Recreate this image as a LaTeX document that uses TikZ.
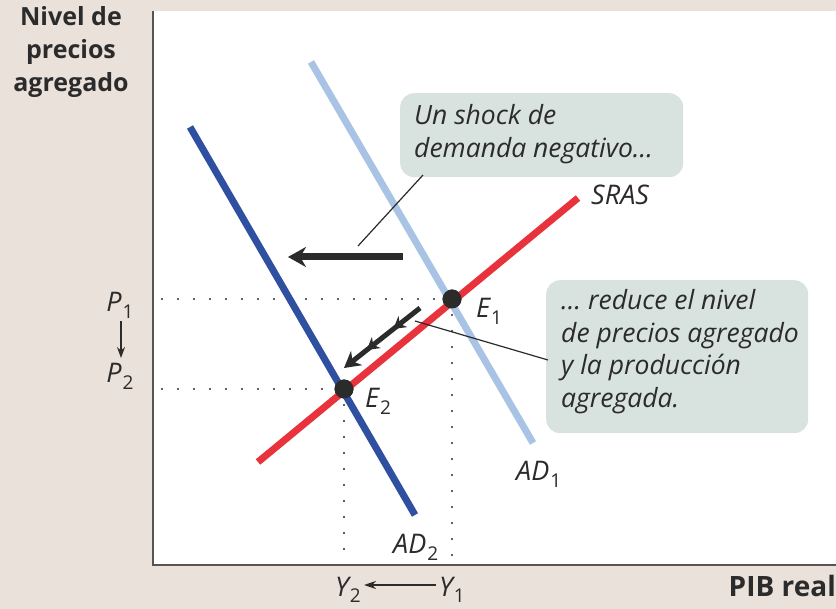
\documentclass[tikz,border=0pt]{standalone}
\usepackage{fontspec}
\setmainfont{Open Sans}
\usetikzlibrary{arrows.meta,decorations.markings,calc}
\definecolor{bgbeige}{HTML}{EBE1DB}
\definecolor{boxfill}{HTML}{D8E3E0}
\definecolor{adlight}{HTML}{A8C3E3}
\definecolor{addark}{HTML}{2F4FA0}
\definecolor{srasred}{HTML}{E8333D}
\definecolor{axisgray}{HTML}{555555}
\definecolor{inkdark}{HTML}{2B2B2B}
\newcommand\lsub[2]{#1\kern1pt\raisebox{-0.45ex}{\fontsize{19}{19}\selectfont\upshape #2}}
\tikzset{
  curve/.style={line width=7pt},
  dotline/.style={line width=2.2pt, line cap=round, dash pattern=on 0pt off 16pt, inkdark},
  eqdot/.style={circle, fill=inkdark, inner sep=0pt, minimum size=19pt},
  lbl/.style={font=\fontsize{27}{30}\selectfont\itshape, text=inkdark, inner sep=0pt},
  axlbl/.style={font=\fontsize{25}{33}\selectfont\bfseries, text=inkdark, inner sep=0pt},
  note/.style={rounded corners=14pt, fill=boxfill},
  notetext/.style={font=\fontsize{26.5}{32.8}\selectfont\itshape, text=inkdark, align=left, inner sep=0pt, anchor=north west},
  pointer/.style={line width=1.2pt, inkdark},
}
\begin{document}
\begin{tikzpicture}[x=1pt,y=-1pt]
\useasboundingbox (0,0) rectangle (836,609);
\fill[bgbeige] (0,0) rectangle (836,609);
\fill[white] (153,11) rectangle (836,565);
\draw[axisgray, line width=2.5pt] (153,11) -- (153,565) -- (836,565);

% coordinates
\coordinate (ad1a) at (311,62);  \coordinate (ad1b) at (533,443);
\coordinate (ad2a) at (190,127); \coordinate (ad2b) at (415,515);
\coordinate (srasa) at (258,462); \coordinate (srasb) at (578,198);
\coordinate (p1) at (162,299); \coordinate (p2) at (162,389);
\coordinate (y1) at (452,560); \coordinate (y2) at (344,560);

% dotted guides
\node[eqdot] (E1) at (452,299) {};
\node[eqdot] (E2) at (344,389) {};
\draw[dotline] (p1) -- (E1.center);
\draw[dotline] (p2) -- (E2.center);
\draw[dotline] (E1.center) -- (y1);
\draw[dotline] (E2.center) -- (y2);

% curves
\draw[curve, adlight] (ad1a) -- (ad1b);
\draw[curve, addark] (ad2a) -- (ad2b);
\draw[curve, srasred] (srasa) -- (srasb);
\node[eqdot] at (E1) {};
\node[eqdot] at (E2) {};

% labels
\node[lbl, anchor=base west] (sras) at (591,205) {SRAS};
\node[lbl, anchor=base west] (e1l) at (476,318) {\lsub{E}{1}};
\node[lbl, anchor=base west] (e2l) at (365,408) {\lsub{E}{2}};
\node[lbl, anchor=base west] (ad1l) at (516,481) {\lsub{AD}{1}};
\node[lbl, anchor=base west] (ad2l) at (393,554) {\lsub{AD}{2}};

% left axis labels
\node[axlbl, align=center, anchor=north] (ylab) at (71,6) {Nivel de\\precios\\agregado};
\node[lbl, anchor=base] (P1) at (120,312) {\lsub{P}{1}};
\node[lbl, anchor=base] (P2) at (120,383) {\lsub{P}{2}};
\coordinate (pa) at (121,321);
\coordinate (pb) at (121,358);
\draw[pointer, -{Stealth[length=11pt,width=8pt]}] (pa) -- (pb);
\node[lbl, anchor=base] (Y2) at (348,596) {\lsub{Y}{2}};
\node[lbl, anchor=base] (Y1) at (452,596) {\lsub{Y}{1}};
\coordinate (ya) at (436,585);
\coordinate (yb) at (364,585);
\draw[pointer, -{Stealth[length=12pt,width=8pt]}] (ya) -- (yb);
\node[axlbl, font=\fontsize{28}{33}\selectfont\bfseries, anchor=base east] (xlab) at (836,596) {PIB real};

% note 1
\node[note, minimum width=283pt, minimum height=84pt, anchor=north west] (n1) at (400,93) {};
\node[notetext] (t1) at (414,104) {Un shock de\\demanda negativo…};
\coordinate (n1tip) at (358,246);
\draw[pointer] (423,175) -- (n1tip);
\draw[line width=7pt, inkdark, -{Stealth[length=18pt,width=20pt]}] (403,257) -- (288,257);

% note 2
\node[note, minimum width=262pt, minimum height=153pt, anchor=north west] (n2) at (546,280) {};
\node[notetext] (t2) at (561,289) {… reduce el nivel\\de precios agregado\\y la producción\\agregada.};
\coordinate (n2tip) at (415,321);
\draw[pointer] (n2tip) -- (548,360);

% movement arrow along SRAS
\draw[line width=5pt, inkdark,
  postaction={decorate, decoration={markings,
    mark=at position 0.35 with {\arrow{Stealth[length=12pt,width=14pt]}},
    mark=at position 0.7 with {\arrow{Stealth[length=12pt,width=14pt]}}}},
  -{Stealth[length=16pt,width=18pt]}] (420,308) -- (344,368);
\end{tikzpicture}
\end{document}
